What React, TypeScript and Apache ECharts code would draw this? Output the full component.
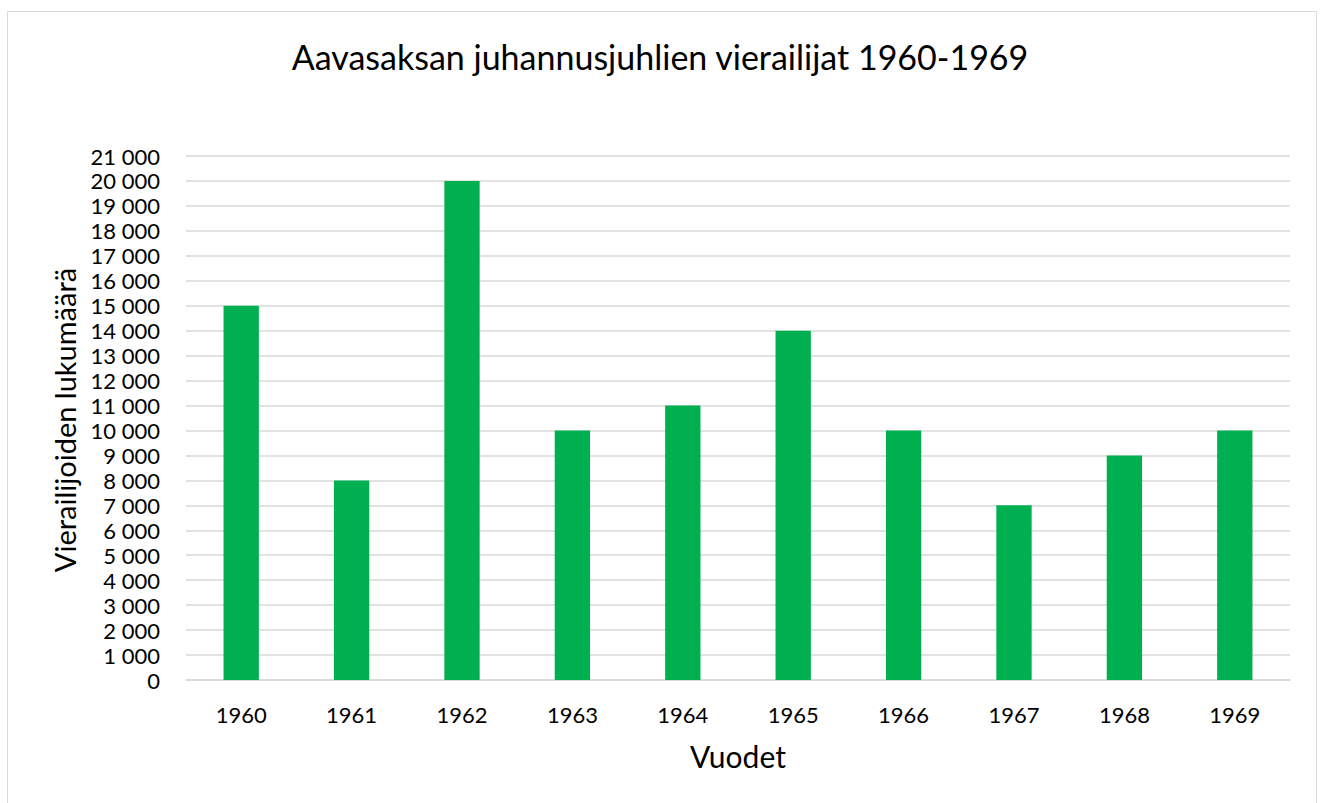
import React, { useEffect, useRef } from "react";
import * as echarts from "echarts";

const years = ["1960", "1961", "1962", "1963", "1964", "1965", "1966", "1967", "1968", "1969"];
const visitors = [15000, 8000, 20000, 10000, 11000, 14000, 10000, 7000, 9000, 10000];
const titleText = "Aavasaksan juhannusjuhlien vierailijat 1960-1969";
const xName = "Vuodet";
const yName = "Vierailijoiden lukumäärä";

const FONT = "Lato, 'Open Sans', sans-serif";

function fmt(v: number): string {
  return String(v).replace(/\B(?=(\d{3})+(?!\d))/g, " ");
}

export default function App() {
  const ref = useRef<HTMLDivElement>(null);
  useEffect(() => {
    if (!ref.current) return;
    const chart = echarts.init(ref.current, undefined, { renderer: "svg" });
    chart.setOption({
      animation: false,
      backgroundColor: "#ffffff",
      title: {
        text: titleText,
        left: "center",
        top: 34,
        textStyle: { fontFamily: FONT, fontSize: 34, fontWeight: "normal", color: "#000" },
      },
      graphic: [
        {
          type: "rect",
          shape: { x: 7.5, y: 11.5, width: 1309, height: 800 },
          style: { fill: "none", stroke: "#d9d9d9", lineWidth: 1 },
          silent: true,
        },
        {
          type: "text",
          rotation: Math.PI / 2,
          x: 64,
          y: 420,
          style: {
            text: yName,
            fontFamily: FONT,
            fontSize: 29,
            fill: "#000",
            align: "center",
            verticalAlign: "middle",
          },
        },
      ],
      grid: { left: 186, right: 30, top: 156, bottom: 123 },
      xAxis: {
        type: "category",
        data: years,
        name: xName,
        nameLocation: "middle",
        nameGap: 61,
        nameTextStyle: { fontFamily: FONT, fontSize: 30, color: "#000" },
        axisLine: { lineStyle: { color: "#d9d9d9", width: 1.5 } },
        axisTick: { show: false },
        axisLabel: { fontFamily: FONT, fontSize: 22, color: "#000", margin: 23 },
      },
      yAxis: {
        type: "value",
        min: 0,
        max: 21000,
        interval: 1000,
        axisLine: { show: false },
        axisTick: { show: false },
        splitLine: { lineStyle: { color: "#d9d9d9", width: 1.5 } },
        axisLabel: {
          fontFamily: FONT,
          fontSize: 22,
          color: "#000",
          margin: 26,
          formatter: (v: number) => fmt(v),
        },
      },
      series: [
        {
          type: "bar",
          data: visitors,
          barWidth: "32%",
          itemStyle: { color: "#00b050" },
        },
      ],
    });
    return () => chart.dispose();
  }, []);
  return (
    <div
      ref={ref}
      style={{ position: "fixed", left: 0, top: 0, width: 1320, height: 803 }}
    />
  );
}
